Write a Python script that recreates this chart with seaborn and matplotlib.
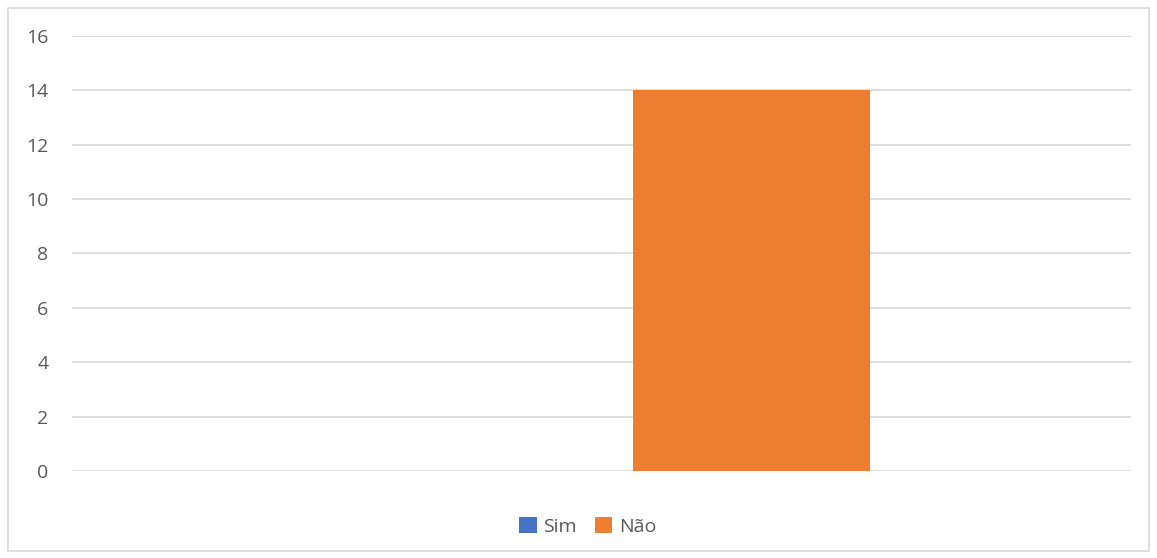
import pandas as pd
import seaborn as sns
import matplotlib.pyplot as plt
from matplotlib.patches import Rectangle

# dados
categoria = ["1"]
series = ["Sim", "Não"]
valores_sim = [0]
valores_nao = [14]
cores = ["#4472C4", "#ED7D31"]
yticks = [0, 2, 4, 6, 8, 10, 12, 14, 16]

df = pd.DataFrame({
    "Categoria": categoria * 2,
    "Serie": series,
    "Valor": valores_sim + valores_nao,
})

sns.set_theme(style="white")
plt.rcParams["font.family"] = ["Open Sans", "DejaVu Sans"]

fig = plt.figure(figsize=(11.57, 5.58), dpi=100)
ax = fig.add_axes([0.0622, 0.1559, 0.9153, 0.7796])

sns.barplot(data=df, x="Categoria", y="Valor", hue="Serie",
            palette=cores, width=0.8, saturation=1, linewidth=0, ax=ax, legend=True)

ax.set_xlim(-0.947, 0.8405)
ax.set_ylim(0, 16)
ax.set_yticks(yticks)
ax.set_yticklabels([str(v) for v in yticks], color="#595959", fontsize=14)
ax.tick_params(axis="y", length=0, pad=17)
ax.set_xticks([])
ax.set_xlabel("")
ax.set_ylabel("")
ax.grid(axis="y", color="#D9D9D9", linewidth=1.2)
ax.set_axisbelow(True)
for s in ax.spines.values():
    s.set_visible(False)

h, l = ax.get_legend_handles_labels()
ax.legend(h, l, loc="center", bbox_to_anchor=(0.487, -0.127), ncol=2, frameon=False,
          fontsize=14, handlelength=0.9, handleheight=0.9, handletextpad=0.35,
          columnspacing=0.9, labelcolor="#595959")

# moldura do gráfico
fig.patches.append(Rectangle((8 / 1157, 7 / 558), 1141 / 1157, 543 / 558,
                             transform=fig.transFigure, fill=False,
                             edgecolor="#D9D9D9", linewidth=1.2))

fig.savefig("out.png", dpi=100)
